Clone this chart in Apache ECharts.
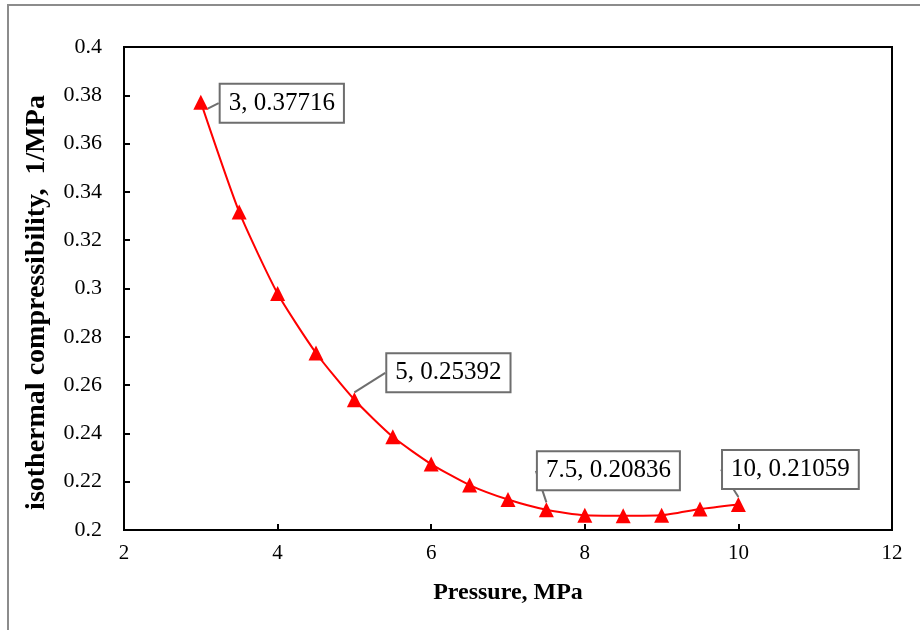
<!DOCTYPE html>
<html>
<head>
<meta charset="utf-8">
<script src="https://cdn.jsdelivr.net/npm/echarts@6/dist/echarts.min.js"></script>
<style>
	html, body { margin: 0; padding: 0; background: #fff; }
	#chart { width: 920px; height: 630px; }
</style>
</head>
<body>
<div id="chart"></div>
<script>
// pressure (MPa) and isothermal compressibility (1/MPa)
const pressure = [3, 3.5, 4, 4.5, 5, 5.5, 6, 6.5, 7, 7.5, 8, 8.5, 9, 9.5, 10]
const compress = [0.37716, 0.3317, 0.2979, 0.2733, 0.25392, 0.2386, 0.2273, 0.2186, 0.2126, 0.20836, 0.2061, 0.2059, 0.2061, 0.2087, 0.21059]

// callouts: which points get a label box, and how far the box sits from the point
const calloutIndex = [0, 4, 9, 14]
const calloutShift = [[81, 1], [94, -27], [62, -39], [52, -35]]

const xTicks = { min: 2, max: 12, step: 2 }
const yTicks = { min: 0.2, max: 0.4, step: 0.02 }

const serif = 'Liberation Serif'

//组装数据
let seriesData = []
for (let i = 0; i < pressure.length; i++) {
	let item = { value: [pressure[i], compress[i]] }
	if (calloutIndex.indexOf(i) >= 0) {
		item.label = {
			show: true,
			formatter: pressure[i] + ', ' + compress[i]
		}
	}
	seriesData.push(item)
}

const myCharts = echarts.init(document.getElementById('chart'))

let option = {
	animation: false,
	backgroundColor: '#fff',
	graphic: [{
		type: 'rect',
		shape: { x: 8, y: 5, width: 1000, height: 1000 },
		style: { fill: 'none', stroke: '#8c8c8c', lineWidth: 2 },
		silent: true
	}],
	grid: {
		left: 124,
		right: 28,
		top: 47,
		bottom: 100,
		show: true,
		borderColor: '#000',
		borderWidth: 2
	},
	xAxis: {
		type: 'value',
		min: xTicks.min,
		max: xTicks.max,
		interval: xTicks.step,
		name: 'Pressure, MPa',
		nameLocation: 'middle',
		nameGap: 51,
		nameTextStyle: { fontFamily: serif, fontWeight: 'bold', fontSize: 24, color: '#000' },
		axisLine: { lineStyle: { color: '#000', width: 2 } },
		axisTick: { inside: true, length: 6, lineStyle: { color: '#000', width: 2 } },
		axisLabel: { fontFamily: serif, fontSize: 21, color: '#000', margin: 13 },
		splitLine: { show: false }
	},
	yAxis: {
		type: 'value',
		min: yTicks.min,
		max: yTicks.max,
		interval: yTicks.step,
		name: 'isothermal compressibility,  1/MPa',
		nameLocation: 'middle',
		nameGap: 73,
		nameRotate: 90,
		nameTextStyle: { fontFamily: serif, fontWeight: 'bold', fontSize: 28, color: '#000', padding: [0, 28, 0, 0] },
		axisLine: { lineStyle: { color: '#000', width: 2 } },
		axisTick: { inside: true, length: 6, lineStyle: { color: '#000', width: 2 } },
		axisLabel: { fontFamily: serif, fontSize: 22, color: '#000', margin: 22 },
		splitLine: { show: false }
	},
	series: [{
		type: 'line',
		data: seriesData,
		smooth: 0.2,
		symbol: 'triangle',
		symbolSize: 15,
		itemStyle: { color: '#ff0000' },
		lineStyle: { color: '#ff0000', width: 2 },
		label: {
			show: false,
			position: 'inside',
			fontFamily: serif,
			fontSize: 25,
			color: '#000',
			backgroundColor: '#fff',
			borderColor: '#6e6e6e',
			borderWidth: 2,
			padding: [7, 8, 5, 8]
		},
		labelLine: {
			show: true,
			lineStyle: { color: '#6e6e6e', width: 2 }
		},
		labelLayout: function (params) {
			let k = calloutIndex.indexOf(params.dataIndex)
			if (k < 0) return {}
			return { dx: calloutShift[k][0], dy: calloutShift[k][1] }
		}
	}]
}

myCharts.setOption(option)
</script>
</body>
</html>
